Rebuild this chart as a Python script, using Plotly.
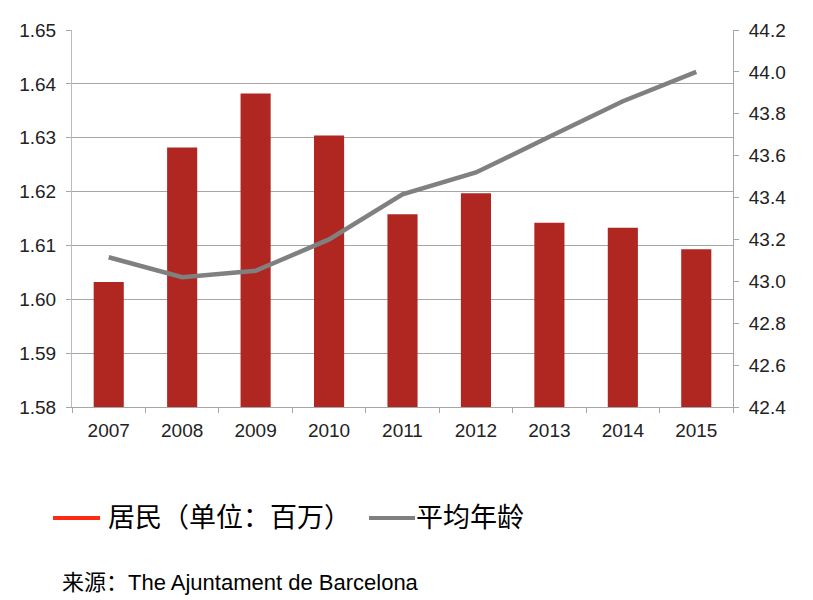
import plotly.graph_objects as go

years = ["2007", "2008", "2009", "2010", "2011", "2012", "2013", "2014", "2015"]
residents = [1.6032, 1.6282, 1.6382, 1.6304, 1.6158, 1.6197, 1.6142, 1.6133, 1.6093]
avg_age = [43.115, 43.02, 43.05, 43.20, 43.415, 43.52, 43.69, 43.86, 44.00]

name_res = "居民（单位：百万）"
name_age = "平均年龄"
source = "来源：The Ajuntament de Barcelona"

bar_color = "#b02721"
legend_red = "#ff2a12"
line_color = "#808080"
grid_color = "#a6a6a6"
font_fam = "Liberation Sans, Arial, sans-serif"
cjk = "Liberation Sans, Noto Sans CJK SC, sans-serif"

W, H = 813, 600
L, R, T, B = 72, 80, 30, 193
pw, ph = W - L - R, H - T - B


def px_x(x):
    return (x - L) / pw


def px_y(y):
    return (H - B - y) / ph


fig = go.Figure()
fig.add_trace(go.Bar(x=years, y=residents, name=name_res,
                     marker=dict(color=bar_color, line=dict(width=0)),
                     showlegend=False, yaxis="y"))
fig.add_trace(go.Scatter(x=years, y=avg_age, mode="lines", name=name_age,
                         line=dict(color=line_color, width=4.5),
                         showlegend=False, yaxis="y2"))

tickfont = dict(size=19, color="#222", family=font_fam)
fig.update_layout(
    width=W, height=H,
    margin=dict(l=L, r=R, t=T, b=B),
    paper_bgcolor="white", plot_bgcolor="white",
    font=dict(family=font_fam, size=15, color="#222"),
    bargap=0.59,
    xaxis=dict(type="category", showline=True, linecolor=grid_color, linewidth=1,
               ticks="outside", tickson="boundaries", ticklen=5, tickcolor=grid_color,
               showgrid=False, tickfont=tickfont, ticklabelstandoff=6),
    yaxis=dict(range=[1.58, 1.65], dtick=0.01, tickformat=".2f", showgrid=True,
               gridcolor=grid_color, gridwidth=1, showline=True, linecolor="#bbbbbb",
               linewidth=1, ticks="outside", ticklen=5, tickcolor=grid_color,
               zeroline=False, tickfont=tickfont, ticklabelstandoff=6),
    yaxis2=dict(range=[42.4, 44.2], dtick=0.2, tickformat=".1f", overlaying="y", side="right",
                showgrid=False, showline=True, linecolor=grid_color, linewidth=1,
                ticks="outside", ticklen=5, tickcolor=grid_color, zeroline=False,
                tickfont=tickfont, ticklabelstandoff=6),
    showlegend=False,
)

# manual legend (line symbols + labels) below the plot
leg_y = 518
fig.add_shape(type="line", xref="paper", yref="paper",
              x0=px_x(53), x1=px_x(100), y0=px_y(leg_y), y1=px_y(leg_y),
              line=dict(color=legend_red, width=4))
fig.add_annotation(text=name_res, xref="paper", yref="paper",
                   x=px_x(106), y=px_y(leg_y), xanchor="left", yanchor="middle",
                   showarrow=False, font=dict(family=cjk, size=27, color="#000"))
fig.add_shape(type="line", xref="paper", yref="paper",
              x0=px_x(369), x1=px_x(415), y0=px_y(leg_y), y1=px_y(leg_y),
              line=dict(color=line_color, width=4))
fig.add_annotation(text=name_age, xref="paper", yref="paper",
                   x=px_x(414), y=px_y(leg_y), xanchor="left", yanchor="middle",
                   showarrow=False, font=dict(family=cjk, size=27, color="#000"))

fig.add_annotation(text=source, xref="paper", yref="paper",
                   x=px_x(60), y=px_y(582),
                   xanchor="left", yanchor="middle", showarrow=False,
                   font=dict(family=cjk, size=22, color="#000"))

fig.write_html("out.html")
